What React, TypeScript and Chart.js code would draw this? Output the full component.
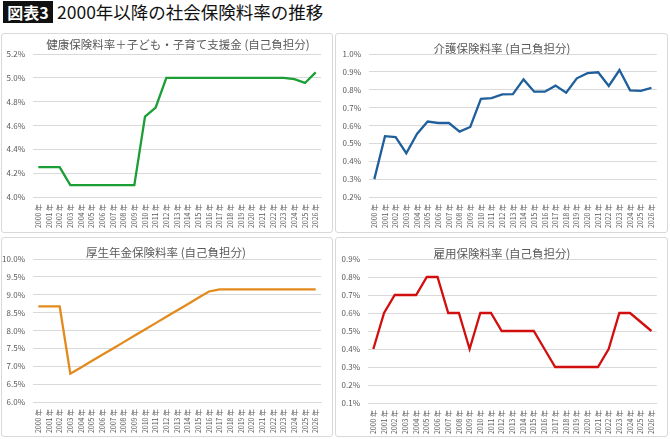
import React, { useEffect, useRef } from "react";
import { Chart, registerables } from "chart.js";
Chart.register(...registerables);

const years = [
  "2000 年", "2001 年", "2002 年", "2003 年", "2004 年", "2005 年", "2006 年", "2007 年", "2008 年",
  "2009 年", "2010 年", "2011 年", "2012 年", "2013 年", "2014 年", "2015 年", "2016 年", "2017 年",
  "2018 年", "2019 年", "2020 年", "2021 年", "2022 年", "2023 年", "2024 年", "2025 年", "2026 年",
];

const healthRates = [
  4.25, 4.25, 4.25, 4.1, 4.1, 4.1, 4.1, 4.1, 4.1, 4.1, 4.674, 4.751, 5.0, 5.0, 5.0, 5.0, 5.0, 5.0,
  5.0, 5.0, 5.0, 5.0, 5.0, 5.0, 4.989, 4.957, 5.046,
];
const careRates = [
  0.3, 0.54, 0.535, 0.445, 0.553, 0.622, 0.614, 0.614, 0.566, 0.592, 0.749, 0.753, 0.774, 0.775,
  0.858, 0.789, 0.789, 0.823, 0.784, 0.864, 0.893, 0.898, 0.821, 0.91, 0.797, 0.794, 0.81,
];
const pensionRates = [
  8.675, 8.675, 8.675, 6.79, 6.967, 7.144, 7.321, 7.498, 7.675, 7.852, 8.029, 8.206, 8.383, 8.56,
  8.737, 8.914, 9.091, 9.15, 9.15, 9.15, 9.15, 9.15, 9.15, 9.15, 9.15, 9.15, 9.15,
];
const employmentRates = [
  0.4, 0.6, 0.7, 0.7, 0.7, 0.8, 0.8, 0.6, 0.6, 0.4, 0.6, 0.6, 0.5, 0.5, 0.5, 0.5, 0.4, 0.3, 0.3,
  0.3, 0.3, 0.3, 0.4, 0.6, 0.6, 0.55, 0.5,
];

const healthTicks = { min: 4.0, max: 5.2, step: 0.2 };
const careTicks = { min: 0.2, max: 1.0, step: 0.1 };
const pensionTicks = { min: 6.0, max: 10.0, step: 0.5 };
const employmentTicks = { min: 0.1, max: 0.9, step: 0.1 };

const FONT = "'Noto Sans CJK JP', 'Noto Sans', sans-serif";

type PanelCfg = {
  title: string;
  data: number[];
  ticks: { min: number; max: number; step: number };
  color: string;
  box: { left: number; top: number; width: number; height: number };
  area: { l: number; r: number; t: number; b: number };
  titlePos: { x: number; y: number };
};

const panels: PanelCfg[] = [
  {
    title: "健康保険料率＋子ども・子育て支援金 (自己負担分)",
    data: healthRates,
    ticks: healthTicks,
    color: "#1a9e35",
    box: { left: 1, top: 33, width: 332, height: 200 },
    area: { l: 33, r: 321, t: 54, b: 197 },
    titlePos: { x: 178, y: 45 },
  },
  {
    title: "介護保険料率 (自己負担分)",
    data: careRates,
    ticks: careTicks,
    color: "#1f5f9c",
    box: { left: 335, top: 33, width: 333, height: 200 },
    area: { l: 369, r: 658, t: 54, b: 197 },
    titlePos: { x: 502, y: 49 },
  },
  {
    title: "厚生年金保険料率 (自己負担分)",
    data: pensionRates,
    ticks: pensionTicks,
    color: "#e38a1d",
    box: { left: 1, top: 237, width: 332, height: 200 },
    area: { l: 33, r: 321, t: 259, b: 402 },
    titlePos: { x: 166, y: 253 },
  },
  {
    title: "雇用保険料率 (自己負担分)",
    data: employmentRates,
    ticks: employmentTicks,
    color: "#d20f0f",
    box: { left: 335, top: 237, width: 333, height: 200 },
    area: { l: 368, r: 658, t: 259, b: 403 },
    titlePos: { x: 502, y: 254 },
  },
];

function Panel({ cfg }: { cfg: PanelCfg }) {
  const ref = useRef<HTMLCanvasElement | null>(null);
  const cx = cfg.box.left + 1;
  const cy = cfg.box.top + 1;
  const w = cfg.box.width - 2;
  const h = cfg.box.height - 2;

  useEffect(() => {
    if (!ref.current) return;
    const yWidth = cfg.area.l - cx;
    const xHeight = cy + h - cfg.area.b;
    const titlePlugin = {
      id: "panelTitle",
      afterDraw(chart: any) {
        const ctx = chart.ctx;
        ctx.save();
        ctx.font = `11.5px ${FONT}`;
        ctx.fillStyle = "#595959";
        ctx.textAlign = "center";
        ctx.textBaseline = "middle";
        ctx.fillText(cfg.title, cfg.titlePos.x - cx, cfg.titlePos.y - cy);
        ctx.restore();
      },
    };
    const chart = new Chart(ref.current, {
      type: "line",
      data: {
        labels: years,
        datasets: [
          {
            data: cfg.data,
            borderColor: cfg.color,
            borderWidth: 2.3,
            pointRadius: 0,
            tension: 0,
            fill: false,
          },
        ],
      },
      options: {
        animation: false,
        responsive: false,
        maintainAspectRatio: false,
        layout: {
          padding: {
            left: 0,
            top: cfg.area.t - cy,
            right: cx + w - cfg.area.r,
            bottom: 0,
          },
        },
        plugins: { legend: { display: false }, tooltip: { enabled: false }, title: { display: false } },
        scales: {
          x: {
            offset: true,
            grid: { display: false, drawTicks: false },
            border: { display: true, color: "#d9d9d9" },
            ticks: {
              autoSkip: false,
              minRotation: 90,
              maxRotation: 90,
              padding: 7,
              color: "#595959",
              font: { size: 7, family: FONT },
            },
            afterFit: (s: any) => {
              s.height = xHeight;
            },
          },
          y: {
            min: cfg.ticks.min,
            max: cfg.ticks.max,
            grid: { color: "#d9d9d9", drawTicks: false, lineWidth: 1 },
            border: { display: false },
            ticks: {
              stepSize: cfg.ticks.step,
              padding: 8,
              color: "#595959",
              font: { size: 8, family: FONT },
              callback: (v: any) => Number(v).toFixed(1) + "%",
            },
            afterFit: (s: any) => {
              s.width = yWidth;
            },
          },
        },
      },
      plugins: [titlePlugin],
    });
    return () => chart.destroy();
  }, []);

  return (
    <>
      <div
        style={{
          position: "absolute",
          left: cfg.box.left,
          top: cfg.box.top,
          width: cfg.box.width,
          height: cfg.box.height,
          boxSizing: "border-box",
          border: "1px solid #d9d9d9",
          borderRadius: 3,
          background: "#fff",
        }}
      />
      <canvas
        ref={ref}
        width={w}
        height={h}
        style={{ position: "absolute", left: cx, top: cy, width: w, height: h }}
      />
    </>
  );
}

export default function App() {
  return (
    <div
      style={{
        position: "absolute",
        left: 0,
        top: 0,
        width: 670,
        height: 439,
        background: "#fff",
        overflow: "hidden",
        fontFamily: FONT,
      }}
    >
      <div
        style={{
          position: "absolute",
          left: 3,
          top: 1,
          width: 50,
          height: 22,
          background: "#111",
          color: "#fff",
          fontSize: 16,
          fontWeight: 700,
          lineHeight: "22px",
          textAlign: "center",
        }}
      >
        図表3
      </div>
      <div
        style={{
          position: "absolute",
          left: 57,
          top: 0,
          height: 24,
          fontSize: 17.5,
          lineHeight: "24px",
          color: "#111",
          whiteSpace: "nowrap",
        }}
      >
        2000年以降の社会保険料率の推移
      </div>
      {panels.map((p, i) => (
        <Panel key={i} cfg={p} />
      ))}
    </div>
  );
}
